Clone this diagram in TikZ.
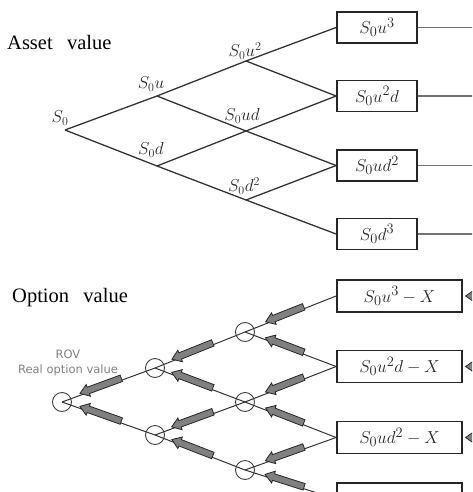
\documentclass[tikz,border=0pt]{standalone}
\usepackage{fontspec}
\setmainfont{Liberation Serif}
\newfontfamily\rovfont{DejaVu Sans}
\usetikzlibrary{shapes.arrows,arrows.meta}

\begin{document}
\begin{tikzpicture}[x=1pt,y=-1pt,
  treeline/.style={draw=black!80, line width=1.3pt},
  optline/.style={draw=black!80, line width=1pt},
  valbox/.style={draw=black!85, line width=1.8pt, minimum width=80pt, minimum height=31pt,
    inner sep=0pt, text=black!85, font=\fontsize{19}{19}\selectfont},
  optbox/.style={valbox, minimum width=125pt, minimum height=32pt},
  lbl/.style={inner sep=0pt, text=black!85, font=\fontsize{17}{17}\selectfont},
  vnode/.style={circle, draw=black!75, line width=0.9pt, minimum size=19pt, inner sep=0pt},
  bkarrow/.style={single arrow, draw=black!85, fill=black!50, line width=0.8pt,
    inner xsep=0pt, inner ysep=3pt, minimum height=44pt,
    single arrow head extend=2.8pt, single arrow tip angle=70,
    shape border rotate=180, sloped, allow upside down},
  outline/.style={draw=black!55, line width=1.2pt},
  heading/.style={anchor=base west, inner sep=0pt, font=\fontsize{20.5}{20.5}\selectfont}
]
\useasboundingbox (0,0) rectangle (472,492);
\clip (0,0) rectangle (472,492);

% ---------- asset value lattice ----------
\node[heading] (asset) at (7,50) {Asset\hspace{0.7em}value};

\coordinate (a0)   at (65,130);
\coordinate (a1u)  at (157,96);
\coordinate (a1d)  at (157,166);
\coordinate (a2uu) at (246,61);
\coordinate (a2ud) at (246,131);
\coordinate (a2dd) at (246,200);

\node[valbox] (v1) at (377,27.5) {$S_0u^3$};
\node[valbox] (v2) at (377,96)   {$S_0u^2d$};
\node[valbox] (v3) at (377,165.5){$S_0ud^2$};
\node[valbox] (v4) at (377,234)  {$S_0d^3$};

\draw[treeline] (a0) -- (a1u);
\draw[treeline] (a0) -- (a1d);
\draw[treeline] (a1u) -- (a2uu);
\draw[treeline] (a1u) -- (a2ud);
\draw[treeline] (a1d) -- (a2ud);
\draw[treeline] (a1d) -- (a2dd);
\draw[treeline] (a2uu) -- (v1.west);
\draw[treeline] (a2uu) -- (v2.west);
\draw[treeline] (a2ud) -- (v2.west);
\draw[treeline] (a2ud) -- (v3.west);
\draw[treeline] (a2dd) -- (v3.west);
\draw[treeline] (a2dd) -- (v4.west);

\foreach \b in {v1,v2,v3,v4}
  \draw[outline] (\b.east) -- ++(70,0);

\node[lbl] (l0)   at (60,118)  {$S_0$};
\node[lbl] (l1u)  at (151,84)  {$S_0u$};
\node[lbl] (l1d)  at (151,150) {$S_0d$};
\node[lbl] (l2uu) at (245,51)  {$S_0u^2$};
\node[lbl] (l2ud) at (242,116) {$S_0ud$};
\node[lbl] (l2dd) at (244,186) {$S_0d^2$};

% ---------- option value lattice ----------
\node[heading] (option) at (12,302) {Option\hspace{0.7em}value};

\node[vnode] (b0)   at (62,402)  {};
\node[vnode] (b1u)  at (155,368) {};
\node[vnode] (b1d)  at (155,435) {};
\node[vnode] (b2uu) at (245,332) {};
\node[vnode] (b2ud) at (245,402) {};
\node[vnode] (b2dd) at (245,470) {};

\node[optbox] (o1) at (399.5,296)   {$S_0u^3-X$};
\node[optbox] (o2) at (399.5,366.5) {$S_0u^2d-X$};
\node[optbox] (o3) at (399.5,437.5) {$S_0ud^2-X$};
\node[optbox] (o4) at (399.5,499)   {};

\draw[optline] (b0.center) -- (b1u.center);
\draw[optline] (b0.center) -- (b1d.center);
\draw[optline] (b1u.center) -- (b2uu.center);
\draw[optline] (b1u.center) -- (b2ud.center);
\draw[optline] (b1d.center) -- (b2ud.center);
\draw[optline] (b1d.center) -- (b2dd.center);
\draw[optline] (b2uu.center) -- (o1.west);
\draw[optline] (b2uu.center) -- (o2.west);
\draw[optline] (b2ud.center) -- (o2.west);
\draw[optline] (b2ud.center) -- (o3.west);
\draw[optline] (b2dd.center) -- (o3.west);
\draw[optline] (b2dd.center) -- (o4.west);

% backward-induction arrows along every branch
\path ([yshift=2pt]b0.center) -- ([yshift=2pt]b1u.center) node[bkarrow, pos=0.44] (r01) {};
\path ([yshift=2pt]b0.center) -- ([yshift=2pt]b1d.center) node[bkarrow, pos=0.44] (r02) {};
\path ([yshift=2pt]b1u.center) -- ([yshift=2pt]b2uu.center) node[bkarrow, pos=0.44] (r11) {};
\path ([yshift=2pt]b1u.center) -- ([yshift=2pt]b2ud.center) node[bkarrow, pos=0.44] (r12) {};
\path ([yshift=2pt]b1d.center) -- ([yshift=2pt]b2ud.center) node[bkarrow, pos=0.44] (r13) {};
\path ([yshift=2pt]b1d.center) -- ([yshift=2pt]b2dd.center) node[bkarrow, pos=0.44] (r14) {};
\path ([yshift=2pt]b2uu.center) -- ([yshift=2pt]o1.west) node[bkarrow, pos=0.46, minimum height=41pt] (r21) {};
\path ([yshift=2pt]b2uu.center) -- ([yshift=2pt]o2.west) node[bkarrow, pos=0.46, minimum height=41pt] (r22) {};
\path ([yshift=2pt]b2ud.center) -- ([yshift=2pt]o2.west) node[bkarrow, pos=0.46, minimum height=41pt] (r23) {};
\path ([yshift=2pt]b2ud.center) -- ([yshift=2pt]o3.west) node[bkarrow, pos=0.46, minimum height=41pt] (r24) {};
\path ([yshift=2pt]b2dd.center) -- ([yshift=2pt]o3.west) node[bkarrow, pos=0.46, minimum height=41pt] (r25) {};
\path ([yshift=2pt]b2dd.center) -- ([yshift=2pt]o4.west) node[bkarrow, pos=0.46, minimum height=41pt] (r26) {};

% arrows entering the payoff boxes from the right
\foreach \b in {o1,o2,o3}
  \node[bkarrow, anchor=tip] (in-\b) at ([xshift=2pt]\b.east) {};

\node[inner sep=0pt, align=center, text=black!50,
      font=\rovfont\fontsize{11.5}{15}\selectfont] (rov) at (68,363) {ROV\\Real option value};
\end{tikzpicture}
\end{document}
